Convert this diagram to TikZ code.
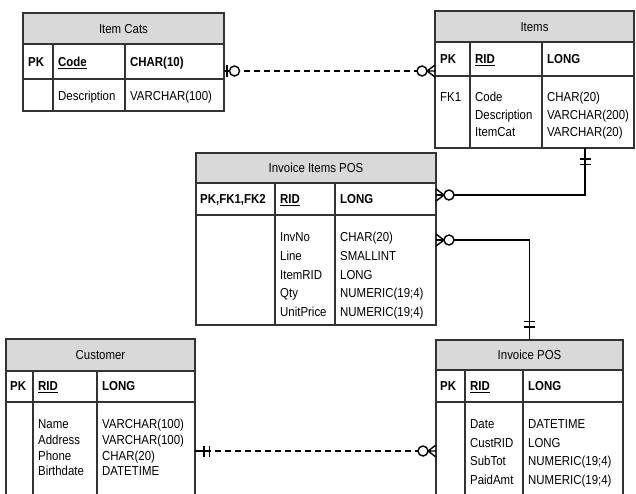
\documentclass[tikz,border=0pt]{standalone}
\usepackage{fontspec}
\setmainfont{Liberation Sans}[FakeStretch=0.88]
\definecolor{hdrgray}{HTML}{D9D9D9}
\definecolor{bcol}{HTML}{333333}
\tikzset{
  box/.style={draw=bcol, line width=1.2pt, inner sep=0pt, outer sep=0pt, anchor=north west},
  hdr/.style={box, fill=hdrgray, text height=9.4pt, text depth=0pt},
  txt/.style={inner sep=0pt, anchor=west, text height=9.4pt, text depth=0pt},
  div/.style={draw=bcol, line width=1.2pt},
  conn/.style={draw=black, line width=1.4pt},
  dsh/.style={conn, dash pattern=on 6pt off 4pt},
  crowO/.pic={
    \draw[conn] (0,6) -- (8,0) -- (0,-6) (0,0) -- (8,0);
    \draw[conn, fill=white] (13,0) circle (5pt);
  },
  barO/.pic={
    \draw[conn] (0,0) -- (5,0) (3,6) -- (3,-6);
    \draw[conn, fill=white] (10.5,0) circle (5pt);
  },
  bars/.pic={
    \draw[conn] (0,0) -- (#1+6,0) (#1,5.5) -- (#1,-5.5) (#1+5.5,5.5) -- (#1+5.5,-5.5);
  }
}
\begin{document}
\begin{tikzpicture}[x=1pt,y=-1pt,font=\fontsize{13}{15}\selectfont]
\useasboundingbox (0,0) rectangle (636,493);
\clip (0,0) rectangle (636,493);

% ---------- Item Cats ----------
\node[hdr, minimum width=201pt, minimum height=31pt] (ichdr) at (23,13) {Item Cats};
\node[box, minimum width=201pt, minimum height=35pt] (icpk) at (23,44) {};
\node[box, minimum width=201pt, minimum height=32pt] (icbody) at (23,79) {};
\draw[div] (53,44) -- (53,111) (125,44) -- (125,111);
\node[txt] (icpkk) at (28,61.5) {\bfseries PK};
\node[txt] (icpkn) at (58,61.5) {\bfseries\underline{Code}};
\node[txt] (icpkt) at (130,61.5) {\bfseries CHAR(10)};
\node[txt] (icf1) at (58,96) {Description};
\node[txt] (ict1) at (130,96) {VARCHAR(100)};

% ---------- Items ----------
\node[hdr, minimum width=199pt, minimum height=31pt] (ithdr) at (435,11) {Items};
\node[box, minimum width=199pt, minimum height=34pt] (itpk) at (435,42) {};
\node[box, minimum width=199pt, minimum height=72pt] (itbody) at (435,76) {};
\draw[div] (470,42) -- (470,148) (542,42) -- (542,148);
\node[txt] (itpkk) at (440,59) {\bfseries PK};
\node[txt] (itpkn) at (475,59) {\bfseries\underline{RID}};
\node[txt] (itpkt) at (547,59) {\bfseries LONG};
\node[txt] (itfk) at (440,97) {FK1};
\foreach \f/\t [count=\i from 0] in {Code/CHAR(20), Description/VARCHAR(200), ItemCat/VARCHAR(20)} {
  \node[txt] (itf\i) at (475,97+17.5*\i) {\f};
  \node[txt] (itt\i) at (547,97+17.5*\i) {\t};
}

% ---------- Invoice Items POS ----------
\node[hdr, minimum width=240pt, minimum height=30pt] (iihdr) at (196,153) {Invoice Items POS};
\node[box, minimum width=240pt, minimum height=32pt] (iipk) at (196,183) {};
\node[box, minimum width=240pt, minimum height=110pt] (iibody) at (196,215) {};
\draw[div] (275,183) -- (275,325) (335,183) -- (335,325);
\node[txt] (iipkk) at (200,199) {\bfseries PK,FK1,FK2};
\node[txt] (iipkn) at (280,199) {\bfseries\underline{RID}};
\node[txt] (iipkt) at (340,199) {\bfseries LONG};
\foreach \f/\t [count=\i from 0] in {InvNo/CHAR(20), Line/SMALLINT, ItemRID/LONG, Qty/NUMERIC(19;4), UnitPrice/NUMERIC(19;4)} {
  \node[txt] (iif\i) at (280,237+18.7*\i) {\f};
  \node[txt] (iit\i) at (340,237+18.7*\i) {\t};
}

% ---------- Customer ----------
\node[hdr, minimum width=189pt, minimum height=32pt] (chdr) at (6,339) {Customer};
\node[box, minimum width=189pt, minimum height=31pt] (cpk) at (6,371) {};
\node[box, minimum width=189pt, minimum height=98pt] (cbody) at (6,402) {};
\draw[div] (33,371) -- (33,500) (97,371) -- (97,500);
\node[txt] (cpkk) at (10,386) {\bfseries PK};
\node[txt] (cpkn) at (38,386) {\bfseries\underline{RID}};
\node[txt] (cpkt) at (102,386) {\bfseries LONG};
\foreach \f/\t [count=\i from 0] in {Name/VARCHAR(100), Address/VARCHAR(100), Phone/CHAR(20), Birthdate/DATETIME} {
  \node[txt] (cf\i) at (38,424+15.7*\i) {\f};
  \node[txt] (ct\i) at (102,424+15.7*\i) {\t};
}

% ---------- Invoice POS ----------
\node[hdr, minimum width=187pt, minimum height=30pt] (iphdr) at (436,340) {Invoice POS};
\node[box, minimum width=187pt, minimum height=32pt] (ippk) at (436,370) {};
\node[box, minimum width=187pt, minimum height=98pt] (ipbody) at (436,402) {};
\draw[div] (465,370) -- (465,500) (523,370) -- (523,500);
\node[txt] (ippkk) at (440,386) {\bfseries PK};
\node[txt] (ippkn) at (470,386) {\bfseries\underline{RID}};
\node[txt] (ippkt) at (528,386) {\bfseries LONG};
\foreach \f/\t [count=\i from 0] in {Date/DATETIME, CustRID/LONG, SubTot/NUMERIC(19;4), PaidAmt/NUMERIC(19;4)} {
  \node[txt] (ipf\i) at (470,424+18.5*\i) {\f};
  \node[txt] (ipt\i) at (528,424+18.5*\i) {\t};
}

% ---------- Connectors ----------
% Item Cats -- Items
\draw[dsh] ([yshift=-9.5pt]icpk.east) -- ([yshift=-12pt]itpk.west);
\pic at ([yshift=-9.5pt]icpk.east) {barO};
\pic[rotate=180] at ([yshift=-12pt]itpk.west) {crowO};

% Items -- Invoice Items POS
\draw[conn] ([xshift=50.5pt]itbody.south) |- ([yshift=4pt]iipk.east);
\pic[rotate=-90] at ([xshift=50.5pt]itbody.south) {bars=11};
\pic at ([yshift=4pt]iipk.east) {crowO};

% Invoice Items POS -- Invoice POS
\draw[conn] ([yshift=30pt]iibody.east) -| (iphdr.north);
\pic at ([yshift=30pt]iibody.east) {crowO};
\pic[rotate=90] at (iphdr.north) {bars=13};

% Customer -- Invoice POS
\draw[dsh] (cbody.east) -- (ipbody.west);
\pic at (cbody.east) {bars=9};
\pic[rotate=180] at (ipbody.west) {crowO};
\end{tikzpicture}
\end{document}
